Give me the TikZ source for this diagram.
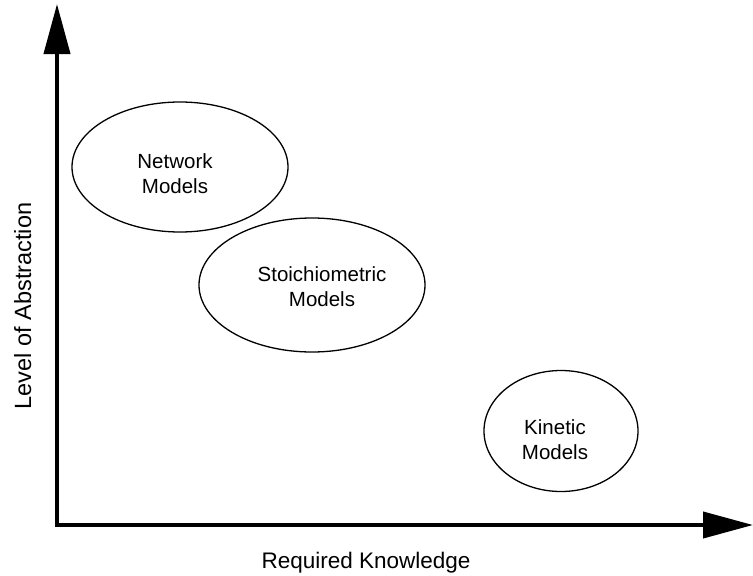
\documentclass[tikz,border=0pt]{standalone}
\usepackage{fontspec}
\setmainfont{Liberation Sans}
\usetikzlibrary{arrows.meta,shapes.geometric}

\tikzset{
  axis/.style={line width=4pt, -{Triangle[length=50pt,width=26pt]}},
  model/.style={ellipse, draw, line width=1.3pt, inner sep=0pt},
  modeltext/.style={align=center, font=\fontsize{20.5}{25}\selectfont, inner sep=0pt},
  axislabel/.style={font=\fontsize{22.5}{27}\selectfont, inner sep=0pt}
}

\begin{document}
\begin{tikzpicture}[x=1pt,y=-1pt]
  \useasboundingbox (0,0) rectangle (753,576);

  % axes
  \coordinate (origin) at (57,525);
  \coordinate (ytip) at (57,4);
  \coordinate (xtip) at (753,525);
  \draw[axis] ([yshift=-2pt]origin) -- (ytip);
  \draw[axis] ([xshift=-2pt]origin) -- (xtip);

  % axis labels
  \node[axislabel, anchor=base] (xlabel) at (366,568) {Required Knowledge};
  \node[axislabel, font=\fontsize{23.5}{28}\selectfont, anchor=base, rotate=90] (ylabel) at (31,306) {Level of Abstraction};

  % model classes
  \node[model, minimum width=216pt, minimum height=130pt] (network) at (180,167) {};
  \node[model, minimum width=226pt, minimum height=134pt] (stoich) at (312,285) {};
  \node[model, minimum width=154pt, minimum height=121pt] (kinetic) at (561,431) {};

  \node[modeltext] (networktext) at (175,174) {Network\\Models};
  \node[modeltext] (stoichtext) at (322,287) {Stoichiometric\\Models};
  \node[modeltext] (kinetictext) at (555,440) {Kinetic\\Models};
\end{tikzpicture}
\end{document}
